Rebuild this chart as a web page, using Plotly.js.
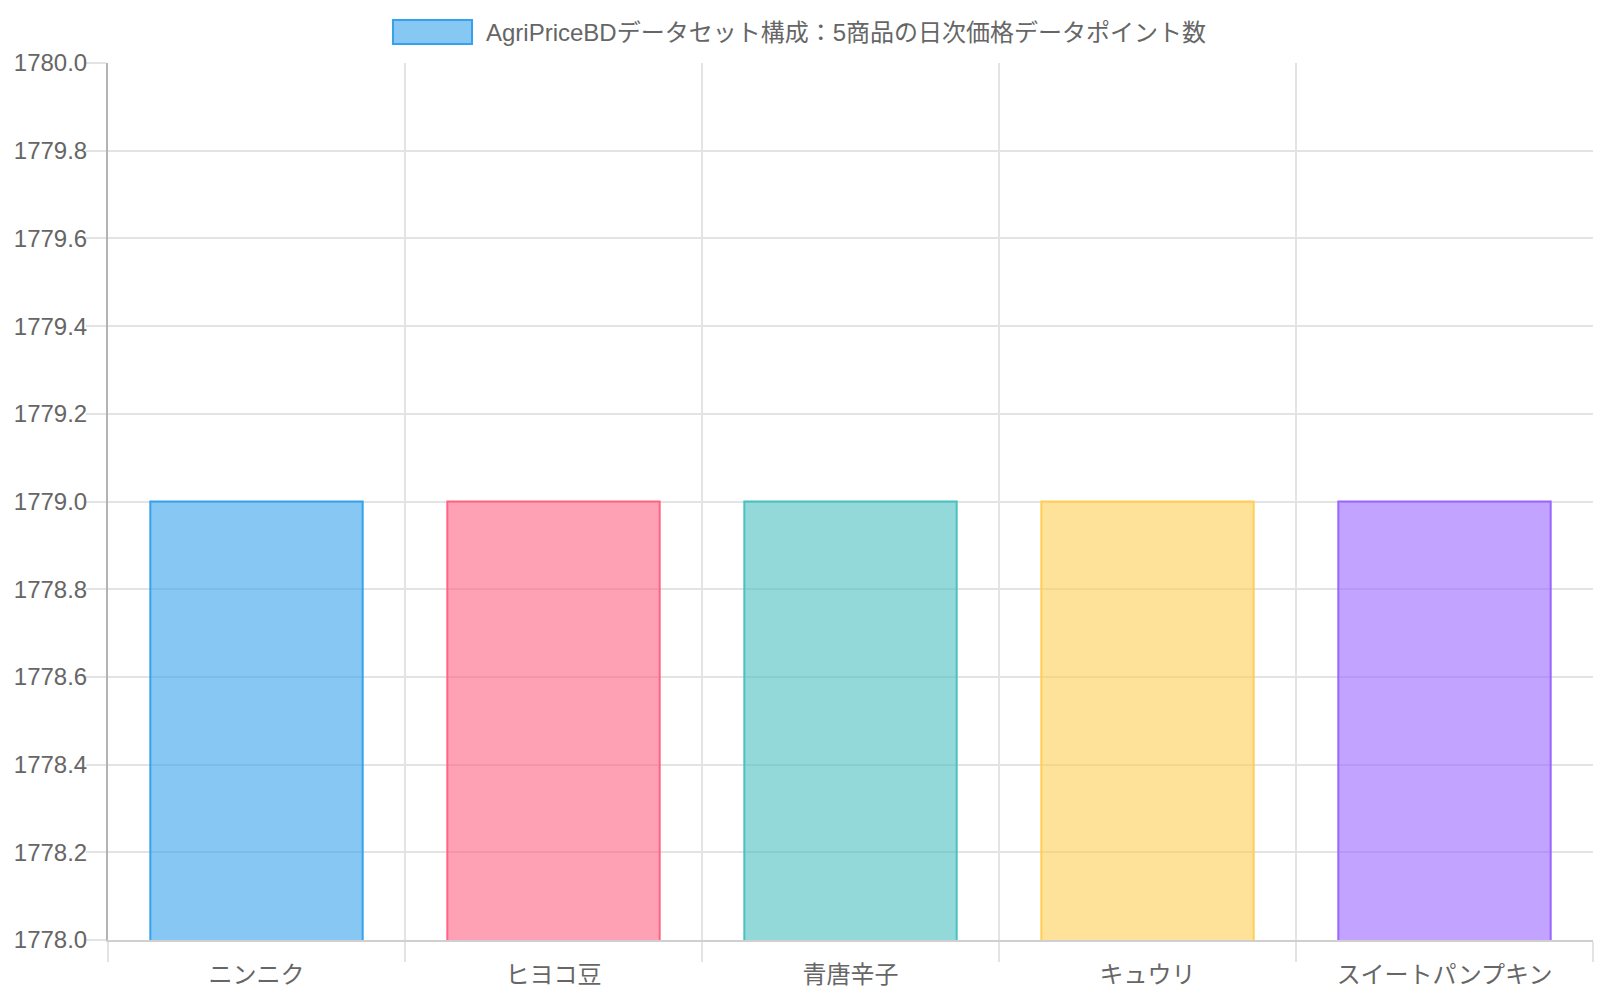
<!DOCTYPE html>
<html>
<head>
<meta charset="utf-8">
<script src="https://cdn.plot.ly/plotly-3.0.1.min.js"></script>
<style>
  html, body { margin: 0; padding: 0; background: #fff; }
  #chart { width: 1600px; height: 1000px; }
</style>
</head>
<body>
<div id="chart"></div>
<script>
// ─── Data ───
const categories = ["ニンニク", "ヒヨコ豆", "青唐辛子", "キュウリ", "スイートパンプキン"];
const pointCounts = [1779, 1779, 1779, 1779, 1779];
const datasetLabel = "AgriPriceBDデータセット構成：5商品の日次価格データポイント数";

// Chart.js-like palette
const fillColors = [
  "rgba(54,162,235,0.6)",
  "rgba(255,99,132,0.6)",
  "rgba(75,192,192,0.6)",
  "rgba(255,206,86,0.6)",
  "rgba(153,102,255,0.6)",
];
const borderColors = [
  "rgb(54,162,235)",
  "rgb(255,99,132)",
  "rgb(75,192,192)",
  "rgb(255,206,86)",
  "rgb(153,102,255)",
];

const FONT = "'Liberation Sans', Arial, 'Noto Sans CJK JP', sans-serif";
const TEXT = "#666";

// plot area in page pixels
const M = { l: 108, r: 7, t: 63, b: 60 };
const W = 1600, H = 1000;
const pw = W - M.l - M.r, ph = H - M.t - M.b;
const px = (x) => (x - M.l) / pw;
const py = (y) => (H - M.b - y) / ph;

Plotly.newPlot(
  "chart",
  [
    {
      type: "bar",
      x: categories,
      y: pointCounts,
      marker: {
        color: fillColors,
        line: { color: borderColors, width: 2 },
      },
      hoverinfo: "x+y",
      showlegend: false,
    },
  ],
  {
    width: W,
    height: H,
    margin: M,
    paper_bgcolor: "#fff",
    plot_bgcolor: "#fff",
    font: { family: FONT, size: 24, color: TEXT },
    bargap: 0.285,
    showlegend: false,
    xaxis: {
      type: "category",
      tickson: "boundaries",
      ticks: "outside",
      ticklen: 20,
      tickwidth: 2,
      tickcolor: "#e3e3e3",
      ticklabelstandoff: 12,
      showgrid: true,
      gridcolor: "#e3e3e3",
      gridwidth: 2,
      showline: true,
      linecolor: "#cfcfcf",
      linewidth: 2,
      tickfont: { family: FONT, size: 24, color: TEXT },
      fixedrange: true,
    },
    yaxis: {
      range: [1778, 1780],
      dtick: 0.2,
      tickformat: ".1f",
      ticks: "outside",
      ticklen: 20,
      tickwidth: 2,
      tickcolor: "#e3e3e3",
      ticklabelstandoff: -6,
      showgrid: true,
      gridcolor: "#e3e3e3",
      gridwidth: 2,
      showline: true,
      linecolor: "#b3b3b3",
      linewidth: 2,
      zeroline: false,
      tickfont: { family: FONT, size: 24, color: TEXT },
      fixedrange: true,
    },
    // ─── Legend (Chart.js style box + label) ───
    shapes: [
      {
        type: "rect",
        xref: "paper",
        yref: "paper",
        x0: px(393),
        x1: px(472),
        y0: py(44),
        y1: py(20),
        fillcolor: fillColors[0],
        line: { color: borderColors[0], width: 2 },
      },
    ],
    annotations: [
      {
        xref: "paper",
        yref: "paper",
        x: px(484),
        y: py(32),
        xanchor: "left",
        yanchor: "middle",
        showarrow: false,
        text: datasetLabel,
        font: { family: FONT, size: 24, color: TEXT },
      },
    ],
  },
  { displayModeBar: false, staticPlot: true },
);
</script>
</body>
</html>
